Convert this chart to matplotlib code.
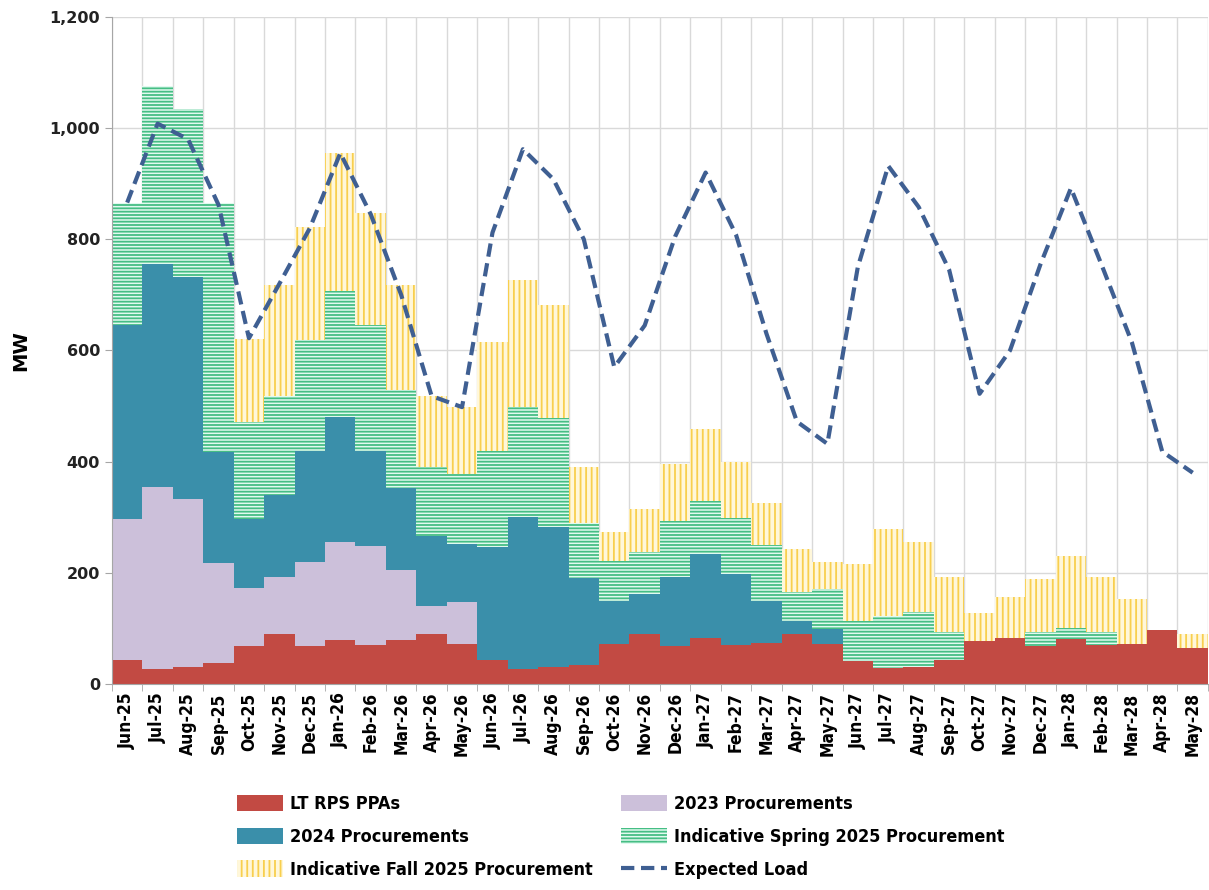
import numpy as np
import matplotlib
matplotlib.use("Agg")
import matplotlib.pyplot as plt
from matplotlib import font_manager
from matplotlib.ticker import FuncFormatter, FixedLocator

months = ["Jun-25", "Jul-25", "Aug-25", "Sep-25", "Oct-25", "Nov-25", "Dec-25",
          "Jan-26", "Feb-26", "Mar-26", "Apr-26", "May-26", "Jun-26", "Jul-26",
          "Aug-26", "Sep-26", "Oct-26", "Nov-26", "Dec-26", "Jan-27", "Feb-27",
          "Mar-27", "Apr-27", "May-27", "Jun-27", "Jul-27", "Aug-27", "Sep-27",
          "Oct-27", "Nov-27", "Dec-27", "Jan-28", "Feb-28", "Mar-28", "Apr-28",
          "May-28"]

lt_rps = [44, 27, 30, 38, 68, 90, 68, 79, 70, 79, 89, 72, 44, 27, 31, 35, 72, 89,
          68, 82, 70, 74, 89, 72, 42, 28, 31, 44, 77, 82, 68, 81, 70, 72, 97, 64]
proc_2023 = [252, 327, 302, 179, 104, 103, 151, 177, 178, 126, 52, 75,
             0, 0, 0, 0, 0, 0, 0, 0, 0, 0, 0, 0,
             0, 0, 0, 0, 0, 0, 0, 0, 0, 0, 0, 0]
proc_2024 = [350, 401, 401, 200, 124, 147, 200, 225, 171, 147, 125, 104,
             202, 273, 251, 156, 77, 72, 125, 152, 127, 75, 24, 26,
             0, 0, 0, 0, 0, 0, 0, 0, 0, 0, 0, 0]
spring_2025 = [220, 320, 302, 449, 175, 178, 200, 226, 227, 177, 125, 126,
               173, 198, 197, 99, 72, 77, 101, 96, 101, 101, 52, 72,
               71, 94, 98, 49, 0, 0, 25, 20, 23, 0, 0, 0]
fall_2025 = [0, 0, 0, 0, 150, 200, 203, 248, 201, 188, 127, 122,
             197, 229, 202, 101, 53, 76, 101, 129, 101, 76, 77, 50,
             103, 156, 127, 100, 50, 75, 96, 129, 100, 81, 0, 26]
expected_load = [866, 1008, 980, 862, 622, 720, 820, 955, 845, 700, 518, 498,
                 812, 962, 908, 800, 570, 645, 805, 920, 808, 630, 472, 432,
                 750, 932, 858, 745, 522, 600, 755, 892, 755, 615, 418, 380]

# condensed bold font for labels, like the original
font_names = {f.name for f in font_manager.fontManager.ttflist}
if "Liberation Sans Narrow" in font_names:
    narrow = dict(family=["Liberation Sans Narrow", "DejaVu Sans"], stretch="normal")
else:
    narrow = dict(family=["DejaVu Sans"], stretch="condensed")

plt.rcParams["hatch.linewidth"] = 1.3

fig = plt.figure(figsize=(12.09, 8.9), dpi=100)
ax = fig.add_axes([0.0926, 0.2315, 0.9065, 0.7495])

x = np.arange(len(months))
b1 = np.array(lt_rps)
b2 = b1 + np.array(proc_2023)
b3 = b2 + np.array(proc_2024)
b4 = b3 + np.array(spring_2025)

h1 = ax.bar(x, lt_rps, width=1.0, color="#C24A43", linewidth=0, label="LT RPS PPAs")
h2 = ax.bar(x, proc_2023, bottom=b1, width=1.0, color="#CCC0DA", linewidth=0,
            label="2023 Procurements")
h3 = ax.bar(x, proc_2024, bottom=b2, width=1.0, color="#3A8FAA", linewidth=0,
            label="2024 Procurements")
h4 = ax.bar(x, spring_2025, bottom=b3, width=1.0, facecolor="#E2FAF0",
            edgecolor="#45BE84", hatch="-----", linewidth=0,
            label="Indicative Spring 2025 Procurement")
h5 = ax.bar(x, fall_2025, bottom=b4, width=1.0, facecolor="#FFF7DA",
            edgecolor="#F8CF4E", hatch="|||", linewidth=0,
            label="Indicative Fall 2025 Procurement")
h6, = ax.plot(x, expected_load, color="#3F5F92", linewidth=3.0,
              linestyle=(0, (3.2, 1.6)), label="Expected Load")

ax.set_xlim(-0.5, len(months) - 0.5)
ax.set_ylim(0, 1200)
ax.set_yticks(range(0, 1201, 200))
ax.yaxis.set_major_formatter(FuncFormatter(lambda v, p: f"{int(v):,}"))
ax.set_xticks(x)
ax.set_xticklabels(months, rotation=90, fontweight="bold", fontsize=12.5, **narrow)
ax.xaxis.set_minor_locator(FixedLocator(np.arange(-0.5, len(months), 1.0)))
ax.tick_params(axis="x", which="major", length=0, pad=6)
ax.tick_params(axis="x", which="minor", length=5, color="#A6A6A6")
ax.tick_params(axis="y", length=5, color="#A6A6A6", labelsize=11.5)
for lbl in ax.get_yticklabels():
    lbl.set_fontweight("bold")
    lbl.set_color("#222222")
ax.set_ylabel("MW", fontsize=14, fontweight="bold", labelpad=14)

ax.set_axisbelow(True)
ax.grid(axis="y", which="major", color="#D9D9D9", linewidth=1)
ax.grid(axis="x", which="minor", color="#D9D9D9", linewidth=1)
ax.grid(axis="x", which="major", visible=False)
for side in ["top", "right"]:
    ax.spines[side].set_visible(False)
ax.spines["left"].set_color("#A6A6A6")
ax.spines["bottom"].set_color("#A6A6A6")

fig.legend([h1, h3, h5, h2, h4, h6],
           ["LT RPS PPAs", "2024 Procurements", "Indicative Fall 2025 Procurement",
            "2023 Procurements", "Indicative Spring 2025 Procurement", "Expected Load"],
           ncol=2, loc="upper left", bbox_to_anchor=(0.183, 0.125),
           frameon=False,
           prop=dict(weight="bold", size=13, **narrow),
           handlelength=2.5, handleheight=1.0, columnspacing=1.6,
           labelspacing=0.8, handletextpad=0.4)

plt.savefig("out.png", dpi=100)
plt.close()
